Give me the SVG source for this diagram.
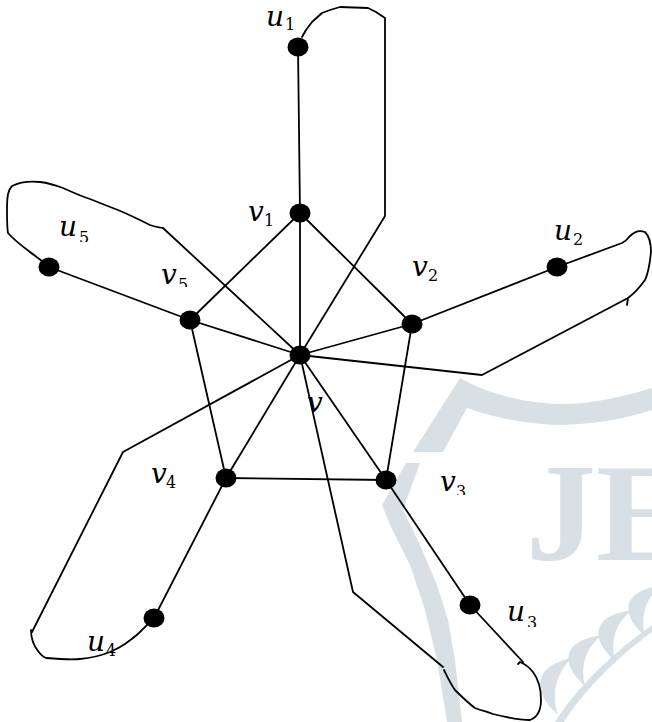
<svg xmlns="http://www.w3.org/2000/svg" width="652" height="722" viewBox="0 0 652 722">
<style>
.e{stroke:#000;stroke-width:1.8;fill:none;stroke-linecap:round;stroke-linejoin:round}
.n{fill:#000}
.lv{font-family:"DejaVu Serif","Liberation Serif",serif;font-style:italic;font-size:28px;fill:#000}
.ls{font-family:"DejaVu Serif","Liberation Serif",serif;font-size:16px;fill:#000}
.wm{fill:#d8e0e5}
</style>
<defs>
<clipPath id="c5"><rect x="0" y="0" width="652" height="287"/></clipPath>
<clipPath id="cu5"><rect x="0" y="0" width="652" height="242"/></clipPath>
<clipPath id="c3"><rect x="0" y="0" width="652" height="495"/></clipPath>
<clipPath id="cu3"><rect x="0" y="0" width="652" height="627"/></clipPath>
</defs>
<rect width="652" height="722" fill="#fff"/>
<g id="watermark">
<path class="wm" d="M460,378 C485,392 515,402 560,404 C595,404 625,396 652,388 L652,410 C625,419 595,424 560,425 C520,424 490,416 467,408 L443,452 L413,452 Z"/>
<path class="wm" d="M406,463 L382,505 L390,525 L410,565 L425,610 L437,660 L447,722 L462,722 L455,660 L448,620 L437,585 L420,545 L403,510 L420,463 Z"/>
<text x="526" y="560" font-family="Liberation Serif,serif" font-weight="bold" font-size="140" class="wm">JE</text>
<path class="wm" d="M555,722 C575,690 610,655 652,625 L652,632 C612,661 580,696 564,722 Z"/>
<path class="wm" d="M645,636 C618,612 624,590 662,585 C646,598 640,615 645,636 Z"/>
<path class="wm" d="M615,661 C588,637 594,615 632,610 C616,623 610,640 615,661 Z"/>
<path class="wm" d="M585,686 C558,662 564,640 602,635 C586,648 580,665 585,686 Z"/>
<path class="wm" d="M558,715 C530,690 535,665 572,658 C556,673 551,693 558,715 Z"/>
</g>
<g id="edges">
<line class="e" x1="298" y1="47" x2="300" y2="213"/>
<line class="e" x1="412" y1="324" x2="557" y2="267"/>
<line class="e" x1="386" y1="480" x2="470" y2="605"/>
<line class="e" x1="226" y1="478" x2="154" y2="618"/>
<line class="e" x1="190" y1="320" x2="49" y2="267"/>
<line class="e" x1="300" y1="355" x2="300" y2="213"/>
<line class="e" x1="300" y1="355" x2="412" y2="324"/>
<line class="e" x1="300" y1="355" x2="386" y2="480"/>
<line class="e" x1="300" y1="355" x2="226" y2="478"/>
<line class="e" x1="300" y1="355" x2="190" y2="320"/>
<line class="e" x1="300" y1="213" x2="412" y2="324"/>
<line class="e" x1="412" y1="324" x2="386" y2="480"/>
<line class="e" x1="386" y1="480" x2="226" y2="478"/>
<line class="e" x1="226" y1="478" x2="190" y2="320"/>
<line class="e" x1="190" y1="320" x2="300" y2="213"/>
<path class="e" d="M300,355 L385,216 L385,18 L376,12 L368,8 L340,7 L330,10 L322,13 L312,22 L306,30 L302,37"/>
<path class="e" d="M300,355 L482,375 L628,298 M628,298 L627,305 M628,298 C636,292 640,287 645,280 C649,272 650,262 651,252 C651,244 649,236 645,232 C640,230 635,231 630,236 C627,240 624,242 622,243 L557,267"/>
<path class="e" d="M300,355 L353,592 L443,667 M444,670 C447,676 450,683 455,690 C462,697 468,703 475,708 C483,711 488,712 493,714 C505,717 518,720 530,720 C538,717 541,710 541,700 C541,690 539,680 533,672 C529,667 525,664 520,662 L518,664 M523,662 L470,605"/>
<path class="e" d="M300,355 L123,452 L32,632 M31,630 C31,638 34,646 38,651 C41,655 43,657 46,658 C58,659 70,660 80,659 C92,658 100,656 110,652 C117,649 122,646 125,644 C130,640 135,637 140,632 C144,628 147,625 154,618"/>
<path class="e" d="M300,355 L163,228 C158,227 155,227 150,225 C140,220 130,215 118,210 C110,207 100,203 90,199 C80,196 72,192 63,188 C55,185 48,183 40,182 C30,181 20,182 12,186 C8,190 7,196 7,210 C7,220 7,228 8,233 C14,240 22,246 30,252 C35,256 40,259 49,267"/>
</g>
<g id="n_v"><ellipse class="n" cx="300" cy="355" rx="10.5" ry="9.5"/><text class="lv" x="307" y="412">v</text></g>
<g id="n_v1"><ellipse class="n" cx="300" cy="213" rx="10.5" ry="9.5"/><text class="lv" x="248" y="221">v</text><text class="ls" x="264" y="226">1</text></g>
<g id="n_v2"><ellipse class="n" cx="412" cy="324" rx="10.5" ry="9.5"/><text class="lv" x="412" y="276">v</text><text class="ls" x="428" y="281">2</text></g>
<g id="n_v3"><ellipse class="n" cx="386" cy="480" rx="10.5" ry="9.5"/><text class="lv" x="440" y="491">v</text><text class="ls" x="456" y="497" clip-path="url(#c3)">3</text></g>
<g id="n_v4"><ellipse class="n" cx="226" cy="478" rx="10.5" ry="9.5"/><text class="lv" x="151" y="483">v</text><text class="ls" x="166" y="488">4</text></g>
<g id="n_v5"><ellipse class="n" cx="190" cy="320" rx="10.5" ry="9.5"/><text class="lv" x="161" y="284">v</text><text class="ls" x="178" y="290" clip-path="url(#c5)">5</text></g>
<g id="n_u1"><ellipse class="n" cx="298" cy="47" rx="10.5" ry="9.5"/><text class="lv" x="266" y="26">u</text><text class="ls" x="285" y="30">1</text></g>
<g id="n_u2"><ellipse class="n" cx="557" cy="267" rx="10.5" ry="9.5"/><text class="lv" x="554" y="240">u</text><text class="ls" x="573" y="245">2</text></g>
<g id="n_u3"><ellipse class="n" cx="470" cy="605" rx="10.5" ry="9.5"/><text class="lv" x="507" y="621">u</text><text class="ls" x="527" y="628" clip-path="url(#cu3)">3</text></g>
<g id="n_u4"><ellipse class="n" cx="154" cy="618" rx="10.5" ry="9.5"/><text class="lv" x="87" y="651">u</text><text class="ls" x="106" y="656">4</text></g>
<g id="n_u5"><ellipse class="n" cx="49" cy="267" rx="10.5" ry="9.5"/><text class="lv" x="59" y="236">u</text><text class="ls" x="79" y="243" clip-path="url(#cu5)">5</text></g>
</svg>
